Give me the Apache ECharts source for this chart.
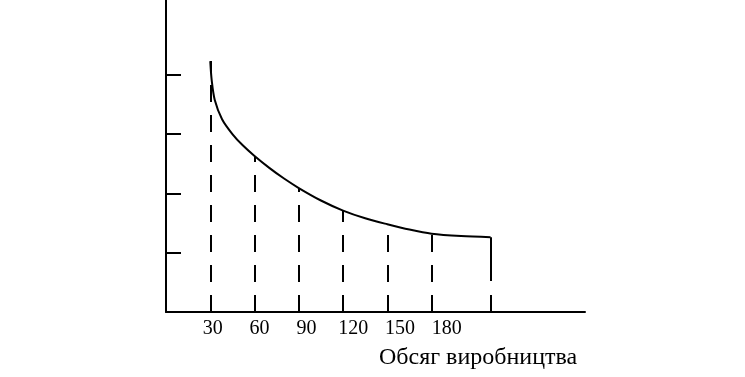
<!DOCTYPE html>
<html>
<head>
<meta charset="utf-8">
<script src="https://cdn.jsdelivr.net/npm/echarts@6/dist/echarts.min.js"></script>
<style>html,body{margin:0;padding:0;background:#fff}#c{width:745px;height:377px}</style>
</head>
<body>
<div id="c"></div>
<script>
// Curve of costs vs production volume
const curveX = [30, 31, 33, 38, 45, 52, 60, 70, 80, 90, 105, 120, 135, 150, 165, 180, 200, 220];
const curveY = [4.23, 3.90, 3.58, 3.25, 3.00, 2.81, 2.63, 2.43, 2.25, 2.09, 1.88, 1.71, 1.58, 1.48, 1.39, 1.32, 1.28, 1.26];
const dashX = [30, 60, 90, 120, 150, 180];
const endX = 220;
const tickLabels = [30, 60, 90, 120, 150, 180];
const yTicks = [1, 2, 3, 4];
const xTitle = 'Обсяг виробництва';

function yAt(x) { return curveY[curveX.indexOf(x)]; }

const font = 'Liberation Serif, Times New Roman, serif';
const chart = echarts.init(document.getElementById('c'), null, {renderer: 'canvas'});

const dashData = dashX.map(x => [{coord: [x, 0]}, {coord: [x, yAt(x)]}]);
dashData.push([{coord: [endX, 0], lineStyle: {type: [17, 14, 300]}}, {coord: [endX, yAt(endX)]}]);

chart.setOption({
  animation: false,
  backgroundColor: '#fff',
  title: {
    text: xTitle, left: 374, top: 341,
    textStyle: {fontFamily: font, fontSize: 24, fontWeight: 'normal', color: '#000'}
  },
  grid: {left: 166, right: 160, top: 0, bottom: 65},
  xAxis: [
    {
      type: 'value', min: 0, max: 284,
      axisLine: {show: true, onZero: false, lineStyle: {color: '#000', width: 2}},
      axisTick: {show: false}, axisLabel: {show: false}, splitLine: {show: false}
    },
    {
      type: 'value', min: 0, max: 268.6, position: 'bottom',
      axisLine: {show: false}, axisTick: {show: false}, splitLine: {show: false},
      axisLabel: {
        show: true, customValues: tickLabels, margin: 7,
        fontFamily: font, fontSize: 20, color: '#000'
      }
    }
  ],
  yAxis: {
    type: 'value', min: 0, max: 5.26,
    axisLine: {show: true, lineStyle: {color: '#000', width: 2}},
    axisTick: {show: true, inside: true, length: 15, customValues: yTicks, lineStyle: {color: '#000', width: 2}},
    axisLabel: {show: false}, splitLine: {show: false}
  },
  series: [{
    type: 'line', xAxisIndex: 0,
    data: curveX.map((x, i) => [x, curveY[i]]),
    smooth: 0.3, showSymbol: false, symbol: 'none',
    lineStyle: {color: '#000', width: 2},
    markLine: {
      silent: true, symbol: 'none', label: {show: false},
      lineStyle: {color: '#000', width: 2, type: [17, 13]},
      data: dashData
    }
  }]
});
</script>
</body>
</html>
